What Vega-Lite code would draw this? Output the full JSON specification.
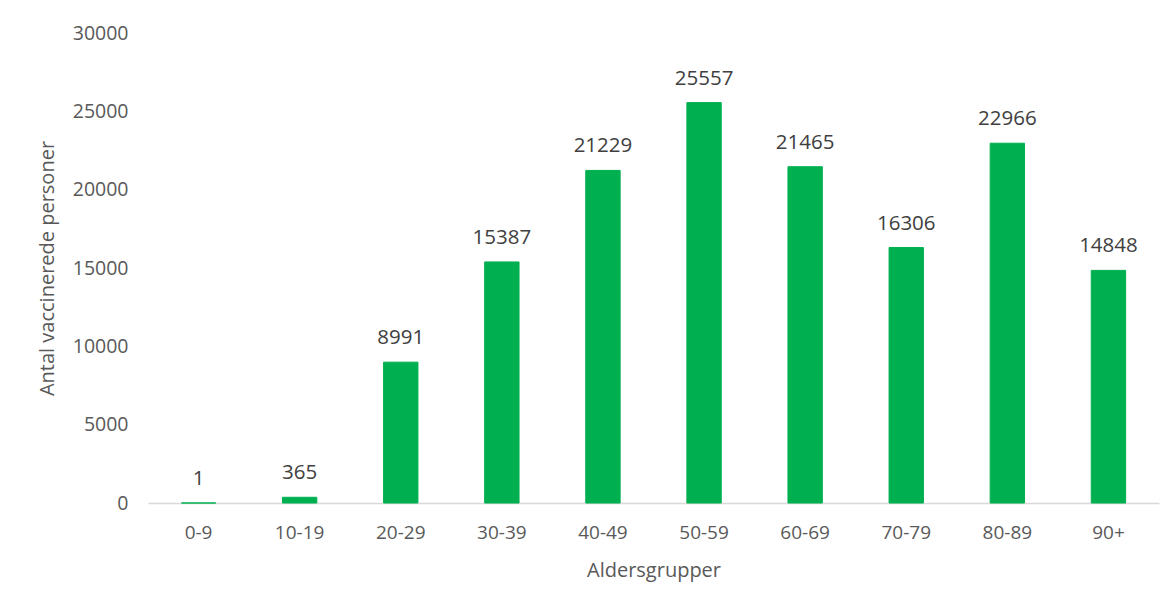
{
  "$schema": "https://vega.github.io/schema/vega-lite/v6.json",
  "width": 1011,
  "height": 470,
  "autosize": {"type": "none"},
  "padding": {"left": 148, "top": 33, "right": 14, "bottom": 110},
  "background": "white",
  "config": {
    "view": {"stroke": null},
    "font": "Open Sans",
    "axis": {"labelFont": "Open Sans", "titleFont": "Open Sans", "labelColor": "#595959", "titleColor": "#595959", "titleFontWeight": "normal"}
  },
  "data": {
    "values": [
      {"group": "0-9", "count": 1},
      {"group": "10-19", "count": 365},
      {"group": "20-29", "count": 8991},
      {"group": "30-39", "count": 15387},
      {"group": "40-49", "count": 21229},
      {"group": "50-59", "count": 25557},
      {"group": "60-69", "count": 21465},
      {"group": "70-79", "count": 16306},
      {"group": "80-89", "count": 22966},
      {"group": "90+", "count": 14848}
    ]
  },
  "encoding": {
    "x": {
      "field": "group", "type": "nominal", "sort": null,
      "scale": {"paddingInner": 0.66, "paddingOuter": 0.33},
      "axis": {
        "title": "Aldersgrupper", "labelAngle": 0, "ticks": false,
        "domainColor": "#d9d9d9", "domainWidth": 1.5,
        "labelFontSize": 19, "labelPadding": 20, "titleFontSize": 20, "titlePadding": 18
      }
    },
    "y": {
      "field": "count", "type": "quantitative",
      "scale": {"domain": [0, 30000], "nice": false},
      "axis": {
        "title": "Antal vaccinerede personer", "values": [0, 5000, 10000, 15000, 20000, 25000, 30000],
        "format": "d", "grid": false, "domain": false, "ticks": false,
        "labelFontSize": 19.5, "labelPadding": 20,
        "titleFontSize": 20, "titleX": -101, "titleY": 235, "titleAngle": -90,
        "titleAlign": "center", "titleBaseline": "middle"
      }
    }
  },
  "layer": [
    {"mark": {"type": "bar", "color": "#00B050", "stroke": "#00B050", "strokeWidth": 1}, "encoding": {}},
    {
      "mark": {"type": "text", "baseline": "middle", "dy": -24, "fontSize": 20.5, "color": "#404040", "font": "Open Sans"},
      "encoding": {"text": {"field": "count", "type": "quantitative", "format": "d"}}
    }
  ]
}
